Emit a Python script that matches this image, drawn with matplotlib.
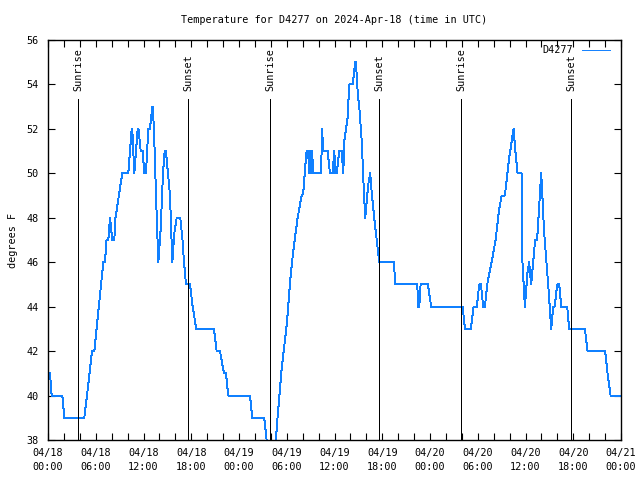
import matplotlib
matplotlib.use("Agg")
import matplotlib.pyplot as plt
import numpy as np

# time in hours since 2024-04-18 00:00 UTC, temperature in F
hours = [0.0, 0.25, 0.46, 1.8, 2.05, 4.56, 4.9, 5.53, 5.82, 6.95, 7.16, 7.35, 7.58, 7.79,
         8.08, 8.33, 8.48, 9.33, 10.09, 10.52, 10.59, 10.84, 11.27, 11.37, 11.65, 11.9,
         12.1, 12.31, 12.6, 12.81, 13.1, 13.19, 13.4, 13.57, 13.86, 14.16, 14.45, 14.66,
         14.82, 15.33, 15.62, 15.87, 16.17, 16.62, 16.9, 17.09, 17.34, 17.84, 18.18, 18.63,
         20.85, 21.19, 21.61, 22.11, 22.36, 22.65, 25.38, 25.67, 27.17, 27.47, 27.83, 28.2,
         28.64, 28.77, 29.36, 30.03, 30.44, 30.74, 31.03, 31.37, 31.87, 32.07, 32.37, 32.5,
         32.7, 32.79, 32.92, 33.05, 33.2, 33.3, 34.3, 34.38, 34.46, 34.55, 34.67, 35.14,
         35.43, 35.76, 35.97, 36.12, 36.27, 36.6, 36.9, 37.1, 37.25, 37.44, 37.65, 37.85,
         38.28, 38.61, 38.69, 38.94, 39.11, 39.45, 39.61, 39.86, 40.24, 40.49, 40.58, 40.99,
         41.55, 41.62, 43.47, 43.63, 46.4, 46.52, 46.65, 46.82, 47.65, 47.74, 48.15, 52.1,
         52.39, 53.14, 53.47, 53.89, 54.18, 54.4, 54.68, 54.9, 55.19, 55.74, 56.24, 56.66,
         57.0, 57.41, 57.91, 58.5, 58.73, 59.0, 59.5, 59.58, 59.92, 60.24, 60.46, 60.71,
         61.21, 61.46, 61.68, 61.97, 62.19, 62.31, 62.9, 63.23, 63.48, 63.66, 63.99, 64.24,
         64.49, 65.24, 65.49, 67.46, 67.8, 70.01, 70.31, 70.69, 72.0]
temps = [41, 41, 40, 40, 39, 39, 40, 42, 42, 46, 46, 47, 47, 48,
         47, 47, 48, 50, 50, 52, 52, 50, 52, 52, 51, 51,
         50, 50, 52, 52, 53, 53, 51, 49, 46, 47.5, 50, 51,
         51, 49, 46, 47.3, 48, 48, 47, 46, 45, 45, 44, 43,
         43, 42, 42, 41, 41, 40, 40, 39, 39, 38, 37, 37,
         38, 38.7, 41.2, 43.3, 45.2, 46.25, 47.1, 48, 49, 49.1, 50.5, 51,
         51, 50, 51, 50, 51, 50, 50, 51, 52, 51, 51, 51,
         50, 50, 51, 50, 50, 51, 51, 50, 51.5, 52, 52.5, 54,
         54, 55, 55, 53.5, 53, 51.3, 49.8, 48, 49.5, 50, 49.5, 48,
         46.25, 46, 46, 45, 45, 44, 44, 45, 45, 45, 44, 44,
         43, 43, 44, 44, 45, 45, 44, 44, 45, 46, 47, 48.3,
         49, 49, 50.6, 52, 51, 50, 50, 46.25, 44, 45.5, 46, 45,
         47, 47, 48.3, 50, 48.5, 47.5, 44.75, 43, 44, 44, 45, 45,
         44, 44, 43, 43, 42, 42, 41, 40, 40]

sunrise = [3.78, 27.9, 51.9]
sunset = [17.6, 41.6, 65.75]

tick_hours = [0, 6, 12, 18, 24, 30, 36, 42, 48, 54, 60, 66, 72]
tick_labels = ["04/18\n00:00", "04/18\n06:00", "04/18\n12:00", "04/18\n18:00",
               "04/19\n00:00", "04/19\n06:00", "04/19\n12:00", "04/19\n18:00",
               "04/20\n00:00", "04/20\n06:00", "04/20\n12:00", "04/20\n18:00",
               "04/21\n00:00"]
y_ticks = [38, 40, 42, 44, 46, 48, 50, 52, 54, 56]

plt.rcParams['font.family'] = ['DejaVu Sans Mono']
fs = 7.3

fig = plt.figure(figsize=(6.4, 4.8), dpi=100)
ax = fig.add_axes([48/640, 40/480, 573/640, 400/480])

ax.plot(hours, temps, color='#1080ff', lw=0.7, antialiased=False, label='D4277')

for s in sunrise:
    ax.plot([s, s], [38, 53.35], color='black', lw=0.7, antialiased=False)
    ax.text(s, 53.7, 'Sunrise', rotation=90, ha='center', va='bottom', fontsize=fs)
for s in sunset:
    ax.plot([s, s], [38, 53.35], color='black', lw=0.7, antialiased=False)
    ax.text(s, 53.7, 'Sunset', rotation=90, ha='center', va='bottom', fontsize=fs)

ax.set_xlim(0, 72)
ax.set_ylim(38, 56)
ax.set_xticks(tick_hours)
ax.set_xticklabels(tick_labels, fontsize=fs, linespacing=1.45)
ax.set_xticks(np.arange(0, 73, 2), minor=True)
ax.set_yticks(y_ticks)
ax.set_yticklabels([str(v) for v in y_ticks], fontsize=fs)
ax.tick_params(which='both', direction='in', top=True, right=True, length=5, width=0.8)
ax.tick_params(axis='x', which='major', pad=6)
ax.tick_params(axis='y', which='major', pad=7)
for sp in ax.spines.values():
    sp.set_linewidth(1.0)

ax.set_ylabel('degrees F', fontsize=fs, labelpad=6)
ax.set_title('Temperature for D4277 on 2024-Apr-18 (time in UTC)', fontsize=fs, pad=12)

leg = ax.legend(loc='upper right', bbox_to_anchor=(0.9878, 0.9975), frameon=False,
                fontsize=fs, handlelength=2.8, markerfirst=False, borderaxespad=0.0,
                handletextpad=0.8)

fig.savefig('out.png', dpi=100)
